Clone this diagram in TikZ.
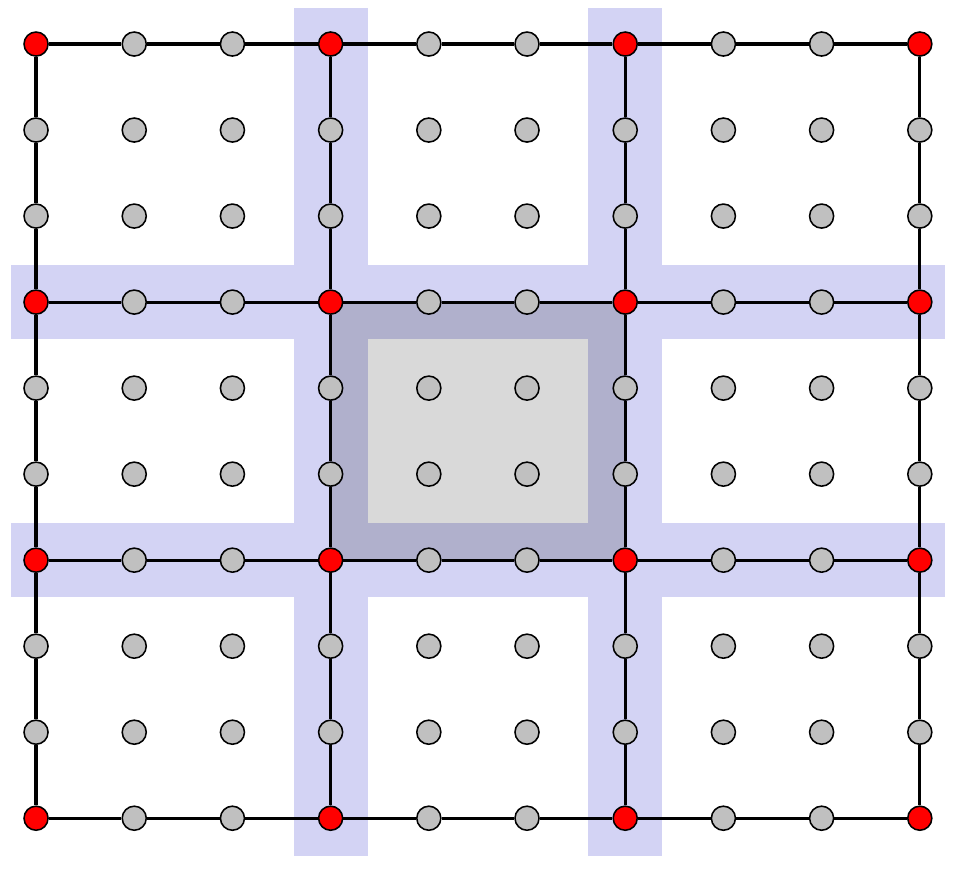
\documentclass[tikz,border=0pt]{standalone}
\usepackage{tikz}
\definecolor{bandblue}{RGB}{211,211,244}
\definecolor{coreshade}{RGB}{176,176,204}
\definecolor{innergray}{RGB}{217,217,217}
\definecolor{ptgray}{RGB}{192,192,192}

\begin{document}
\begin{tikzpicture}[
      x=1cm, y=-0.876cm,
      gridpt/.style={
        circle, draw, line width=0.45pt, inner sep=0pt,
        minimum size=0.245cm, fill=ptgray
      },
      hubpt/.style={gridpt, fill=red},
      wire/.style={line width=0.9pt},
      band/.style={fill=bandblue}
    ]
    \useasboundingbox (-0.367,-0.512) rectangle (9.379,9.628);

    % ===== Blue bands along the inner grid lines =====
    \fill[band] (2.627,-0.419) rectangle (3.381,9.442);
    \fill[band] (5.623,-0.419) rectangle (6.377,9.442);
    \fill[band] (-0.255,2.57) rectangle (9.257,3.43);
    \fill[band] (-0.255,5.57) rectangle (9.257,6.43);

    % ===== Central cell =====
    \fill[coreshade] (3,3) rectangle (6,6);
    \fill[innergray] (3.381,3.43) rectangle (5.623,5.57);

    % ===== Grid points, hubs where both indices divide by 3 =====
    \foreach \i in {0,...,9}
      \foreach \j in {0,...,9} {
        \pgfmathtruncatemacro{\hub}{(mod(\i,3)==0)&&(mod(\j,3)==0)}
        \ifnum\hub=1 \def\kind{hubpt}\else\def\kind{gridpt}\fi
        \node[\kind] (p-\i-\j) at (\i,\j) {};
      }

    % ===== Lines through the hub rows and columns =====
    \foreach \k in {0,3,6,9}
      \foreach \i [count=\n from 1] in {0,...,8} {
        \draw[wire] (p-\i-\k) -- (p-\n-\k);
        \draw[wire] (p-\k-\i) -- (p-\k-\n);
      }
  \end{tikzpicture}
\end{document}
